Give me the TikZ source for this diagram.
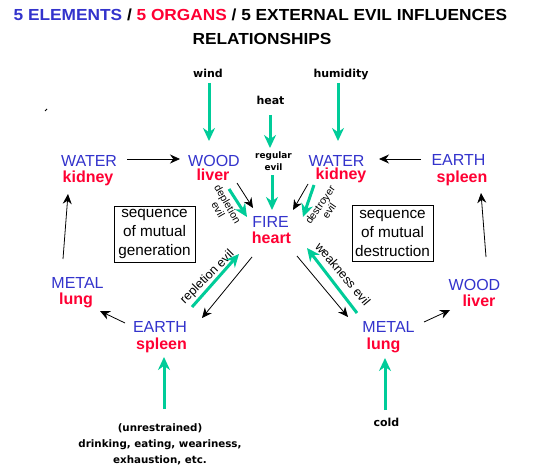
\documentclass[tikz,border=0pt]{standalone}
\usepackage{fontspec}
\setmainfont{Liberation Sans}
\newfontfamily\dvb{DejaVu Sans}
\newfontfamily\titlefont[FakeStretch=1.08]{Liberation Sans}
\usetikzlibrary{arrows.meta,calc}
\definecolor{elblue}{RGB}{51,51,204}
\definecolor{orgred}{RGB}{255,0,51}
\definecolor{evgreen}{RGB}{0,204,153}
\begin{document}
\begin{tikzpicture}[x=1pt,y=-1pt,
 elem/.style={inner sep=0pt, text=elblue, font=\fontsize{16}{18}\selectfont},
 organ/.style={inner sep=0pt, text=orgred, font=\fontsize{16}{18}\selectfont\bfseries},
 ext/.style={inner sep=0pt, align=center, font=\dvb\bfseries\fontsize{11}{12}\selectfont},
 seqbox/.style={draw, line width=0.8pt, minimum width=81pt, minimum height=56pt, inner sep=0pt, align=center, font=\fontsize{15.3}{19}\selectfont},
 blk/.style={-{Stealth[length=10pt,width=9pt]}, line width=0.8pt},
 grn/.style={-{Stealth[length=13pt,width=12pt]}, line width=3pt, draw=evgreen},
 evil/.style={inner sep=0pt, align=center}
]
\useasboundingbox[fill=white] (0,0) rectangle (554,476);

% title
\node[inner sep=0pt, font=\titlefont\bfseries\fontsize{16}{18}\selectfont] (title1) at (260.5,14.5)
  {\textcolor{elblue}{5 ELEMENTS} / \textcolor{orgred}{5 ORGANS} / 5 EXTERNAL EVIL INFLUENCES};
\node[inner sep=0pt, font=\titlefont\bfseries\fontsize{16}{18}\selectfont] (title2) at (262,38.5) {RELATIONSHIPS};

% elements and organs
\node[elem] (waterL) at (89,161) {WATER};
\node[organ] (kidneyL) at (88,178.5) {kidney};
\node[elem] (woodT) at (214,160.5) {WOOD};
\node[organ] (liverT) at (213,175) {liver};
\node[elem] (waterM) at (336.5,160.5) {WATER};
\node[organ] (kidneyM) at (341,175.5) {kidney};
\node[elem] (earthR) at (458.5,160) {EARTH};
\node[organ] (spleenR) at (462,178.5) {spleen};
\node[elem] (metalL) at (77.5,283) {METAL};
\node[organ] (lungL) at (76,300.5) {lung};
\node[elem] (earthB) at (160,327) {EARTH};
\node[organ] (spleenB) at (161.5,345.5) {spleen};
\node[elem] (metalB) at (388.5,326.5) {METAL};
\node[organ] (lungB) at (383.5,345) {lung};
\node[elem] (woodR) at (474.5,285) {WOOD};
\node[organ] (liverR) at (479,301) {liver};
\node[elem] (fire) at (270.5,222) {FIRE};
\node[organ] (heart) at (271.5,238) {heart};

% boxes
\node[seqbox] (gen) at (154.5,234) {sequence\\of mutual\\generation};
\node[seqbox] (dest) at (392.5,233) {sequence\\of mutual\\destruction};

% external influences
\node[ext] (wind) at (208,73) {wind};
\node[ext] (humid) at (341,74.5) {humidity};
\node[ext] (heat) at (270.5,100) {heat};
\node[ext, font=\dvb\bfseries\fontsize{8.9}{12}\selectfont] (regular) at (273.5,161) {regular\\evil};
\node[ext] (cold) at (386.5,422) {cold};
\node[ext, font=\dvb\bfseries\fontsize{10.3}{16}\selectfont] (food) at (160,444)
  {(unrestrained)\\drinking, eating, weariness,\\exhaustion, etc.};

% evil labels
\node[evil, rotate=-60, font=\fontsize{10.5}{11}\selectfont] (depl) at ($(fire)+(-47.5,-15)$) {depletion\\evil};
\node[evil, rotate=55, font=\fontsize{10.5}{11}\selectfont] (destr) at ($(fire)+(54,-14)$) {destroyer\\evil};
\node[evil, rotate=45, font=\fontsize{12.5}{14}\selectfont] (repl) at ($(earthB)+(47.5,-49.5)$) {repletion evil};
\node[evil, rotate=-50, font=\fontsize{12.5}{14}\selectfont] (weak) at ($(metalB)+(-45.5,-52.5)$) {weakness evil};

% black arrows (cycles)
\draw[blk] ($(waterL)+(38,-2)$) -- ($(woodT)+(-34,-1.5)$);
\draw[blk] ($(earthR)+(-37.5,-1)$) -- ($(waterM)+(42.5,-1.5)$);
\draw[blk] ($(metalL)+(-14.5,-24)$) -- ($(kidneyL)+(-20,15.5)$);
\draw[blk] ($(earthB)+(-35,-4)$) -- ($(lungL)+(24,10.5)$);
\draw[blk] ($(woodR)+(11.5,-28)$) -- ($(spleenR)+(19,14.5)$);
\draw[blk] ($(metalB)+(35.5,-4.5)$) -- ($(liverR)+(-29,9)$);
\draw[blk] ($(liverT)+(24,8)$) -- ($(fire)+(-17.5,-14)$);
\draw[blk] ($(kidneyM)+(-33,8.5)$) -- ($(fire)+(22.5,-12)$);
\draw[blk] ($(heart)+(-19.5,19)$) -- ($(earthB)+(42,-9)$);
\draw[blk] ($(heart)+(25.5,18)$) -- ($(metalB)+(-40.5,-9.5)$);

% green arrows (evil influences)
\draw[grn] ($(wind)+(1,10)$) -- ($(woodT)+(-5,-19.5)$);
\draw[grn] ($(humid)+(-3,8.5)$) -- ($(waterM)+(1.5,-19.5)$);
\draw[grn] ($(heat)+(-0.5,15)$) -- ($(regular)+(-3.5,-13)$);
\draw[grn] ($(regular)+(-1.5,14)$) -- ($(fire)+(1.5,-12)$);
\draw[grn] ($(liverT)+(16,14)$) -- ($(fire)+(-23.5,-5)$);
\draw[grn] ($(kidneyM)+(-27,9.5)$) -- ($(fire)+(32.5,-5)$);
\draw[grn] ($(earthB)+(32,-20)$) -- ($(heart)+(-32.5,16)$);
\draw[grn] ($(metalB)+(-31.5,-13.5)$) -- ($(heart)+(35.5,10)$);
\draw[grn] ($(food)+(4,-35)$) -- ($(spleenB)+(2.5,11.5)$);
\draw[grn] ($(cold)+(-1.5,-12)$) -- ($(lungB)+(1.5,13)$);

% stray mark
\draw[line width=0.8pt] (45,111) -- (47,109);
\end{tikzpicture}
\end{document}
